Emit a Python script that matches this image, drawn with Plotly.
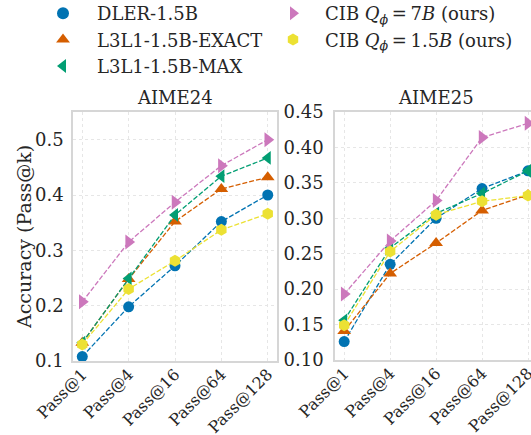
import plotly.graph_objects as go

categories = ["Pass@1", "Pass@4", "Pass@16", "Pass@64", "Pass@128"]

series_names = ["DLER-1.5B", "L3L1-1.5B-EXACT", "L3L1-1.5B-MAX",
                "CIB <i>Q</i><sub><i>ϕ</i></sub>\u2009=\u20097<i>B</i> (ours)",
                "CIB <i>Q</i><sub><i>ϕ</i></sub>\u2009=\u20091.5<i>B</i> (ours)"]

aime24_dler = [0.108, 0.198, 0.272, 0.352, 0.400]
aime24_exact = [0.133, 0.248, 0.352, 0.411, 0.432]
aime24_max = [0.133, 0.249, 0.364, 0.434, 0.467]
aime24_cib7 = [0.207, 0.315, 0.387, 0.453, 0.500]
aime24_cib15 = [0.130, 0.230, 0.281, 0.337, 0.366]

aime25_dler = [0.126, 0.235, 0.300, 0.342, 0.367]
aime25_exact = [0.141, 0.222, 0.265, 0.311, 0.333]
aime25_max = [0.156, 0.258, 0.307, 0.335, 0.367]
aime25_cib7 = [0.193, 0.268, 0.325, 0.414, 0.434]
aime25_cib15 = [0.149, 0.253, 0.305, 0.324, 0.332]

colors = ["#0173b2", "#d55e00", "#029e73", "#cc78bc", "#ece133"]
symbols = ["circle", "triangle-up", "triangle-left", "triangle-right", "hexagon"]
sizes = [11, 12, 12, 13, 12]
legend_sizes = [15, 15, 15, 16, 15]
legends = ["legend", "legend", "legend", "legend2", "legend2"]

W, H = 531, 435
FONT = "DejaVu Serif"
TXT = "#262626"

fig = go.Figure()
xs = list(range(len(categories)))

data24 = [aime24_dler, aime24_exact, aime24_max, aime24_cib7, aime24_cib15]
data25 = [aime25_dler, aime25_exact, aime25_max, aime25_cib7, aime25_cib15]

for i in range(5):
    fig.add_trace(go.Scatter(
        x=xs, y=data24[i], mode="lines+markers", name=series_names[i],
        line=dict(color=colors[i], width=1.3, dash="5px,2px"),
        marker=dict(symbol=symbols[i], size=sizes[i], color=colors[i], line=dict(width=0)),
        xaxis="x", yaxis="y", cliponaxis=False, showlegend=False))
for i in range(5):
    fig.add_trace(go.Scatter(
        x=xs, y=data25[i], mode="lines+markers", name=series_names[i],
        line=dict(color=colors[i], width=1.3, dash="5px,2px"),
        marker=dict(symbol=symbols[i], size=sizes[i], color=colors[i], line=dict(width=0)),
        xaxis="x2", yaxis="y2", cliponaxis=False, showlegend=False))
# legend-only entries (marker only, no line)
for i in range(5):
    fig.add_trace(go.Scatter(
        x=[None], y=[None], mode="markers", name=series_names[i],
        marker=dict(symbol=symbols[i], size=legend_sizes[i], color=colors[i], line=dict(width=0)),
        legend=legends[i], xaxis="x", yaxis="y", showlegend=True))

def px2x(p):
    return p / W

def px2y(p):
    return 1 - p / H

grid = dict(showgrid=True, gridcolor="#e6e6e6", griddash="dot", gridwidth=1,
            showline=True, linecolor="#d6d6d6", linewidth=1.5, zeroline=False,
            ticks="", automargin=False, tickfont=dict(family=FONT, size=18, color=TXT))

xcommon = dict(grid, tickmode="array", tickvals=xs, ticktext=categories, tickangle=-45,
               tickfont=dict(family=FONT, size=16, color=TXT), mirror=True,
               ticklabeloverflow="allow", ticklabelstandoff=-4)

fig.update_layout(
    width=W, height=H, margin=dict(l=0, r=0, t=0, b=0, autoexpand=False),
    paper_bgcolor="white", plot_bgcolor="white",
    font=dict(family=FONT, color=TXT, size=18),
    xaxis=dict(xcommon, domain=[px2x(73), px2x(277)], range=[-0.2, 4.2], anchor="y"),
    yaxis=dict(grid, domain=[px2y(361), px2y(112)], range=[0.1, 0.55],
               tickvals=[0.1, 0.2, 0.3, 0.4, 0.5], ticktext=["0.1", "0.2", "0.3", "0.4", "0.5"],
               anchor="x", mirror=True, ticklabelstandoff=4),
    xaxis2=dict(xcommon, domain=[px2x(335), 1.0], range=[-0.2, 4.065], anchor="y2"),
    yaxis2=dict(grid, domain=[px2y(360), px2y(112)], range=[0.1, 0.45],
                tickvals=[0.10, 0.15, 0.20, 0.25, 0.30, 0.35, 0.40, 0.45],
                ticktext=["0.10", "0.15", "0.20", "0.25", "0.30", "0.35", "0.40", "0.45"],
                anchor="x2", mirror=False, ticklabelstandoff=6),
    legend=dict(x=px2x(29), y=px2y(-5), xanchor="left", yanchor="top",
                font=dict(family=FONT, size=18, color=TXT), bgcolor="rgba(0,0,0,0)",
                itemwidth=58, tracegroupgap=0, itemsizing="constant"),
    legend2=dict(x=px2x(261), y=px2y(-5), xanchor="left", yanchor="top",
                 font=dict(family=FONT, size=18, color=TXT), bgcolor="rgba(0,0,0,0)",
                 itemwidth=54, tracegroupgap=0, itemsizing="constant"),
    annotations=[
        dict(text="AIME24", x=px2x(175), y=px2y(97), xref="paper", yref="paper",
             xanchor="center", yanchor="middle",
             showarrow=False, font=dict(family=FONT, size=18, color=TXT)),
        dict(text="AIME25", x=px2x(436), y=px2y(97), xref="paper", yref="paper",
             xanchor="center", yanchor="middle",
             showarrow=False, font=dict(family=FONT, size=18, color=TXT)),
        dict(text="Accuracy (Pass@k)", x=px2x(24), y=px2y(237), xref="paper", yref="paper",
             xanchor="center", yanchor="middle",
             showarrow=False, textangle=-90, font=dict(family=FONT, size=19, color=TXT)),
    ],
)

fig.write_html("out.html", config={"displayModeBar": False},
               post_script="document.body.style.margin='0px';document.body.style.overflow='hidden';")
